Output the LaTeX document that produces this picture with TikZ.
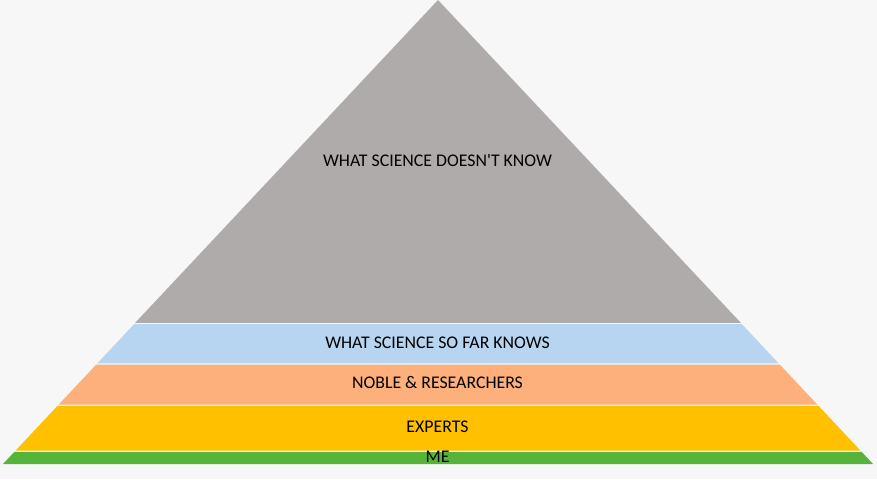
\documentclass[tikz,border=0pt]{standalone}
\usepackage{fontspec}
\setmainfont{Carlito}
% plain (unmapped) face so the apostrophe stays straight
\newfontfamily\labelfont{Carlito}
\definecolor{bgpage}{HTML}{F7F7F7}
\definecolor{layergray}{HTML}{AFABAB}
\definecolor{layerblue}{HTML}{B7D5F0}
\definecolor{layerorange}{HTML}{FDB07C}
\definecolor{layeryellow}{HTML}{FFC000}
\definecolor{layergreen}{HTML}{57B43B}
\tikzset{
  label/.style={font=\labelfont\fontsize{17.8}{20}\selectfont, text=black, inner sep=0pt, anchor=center}
}
\begin{document}
\begin{tikzpicture}[x=1pt,y=-1pt]
  % page background
  \fill[bgpage] (0,0) rectangle (877,479);
  \useasboundingbox (0,0) rectangle (877,479);

  % pyramid layers, top to bottom
  \fill[layergray]   (438,0) -- (740.8,322.8) -- (135.2,322.8) -- cycle;
  \fill[layerblue]   (134.25,324.0) -- (741.75,324.0) -- (778.69,363.4) -- (97.31,363.4) -- cycle;
  \fill[layerorange] (96.19,364.6) -- (779.81,364.6) -- (817.31,404.6) -- (58.69,404.6) -- cycle;
  \fill[layeryellow] (57.56,405.8) -- (818.44,405.8) -- (860.44,450.6) -- (15.56,450.6) -- cycle;
  \fill[layergreen]  (14.44,451.8) -- (861.56,451.8) -- (873.0,464.0) -- (3.0,464.0) -- cycle;

  % layer labels
  \node[label] (unknown)  at (437.5,160.5) {WHAT SCIENCE DOESN'T KNOW};
  \node[label] (known)    at (437.5,342.5) {WHAT SCIENCE SO FAR KNOWS};
  \node[label] (noble)    at (437.5,382.5) {NOBLE \& RESEARCHERS};
  \node[label] (experts)  at (437.5,426.5) {EXPERTS};
  \node[label] (me)       at (437.5,456.5) {ME};
\end{tikzpicture}
\end{document}
